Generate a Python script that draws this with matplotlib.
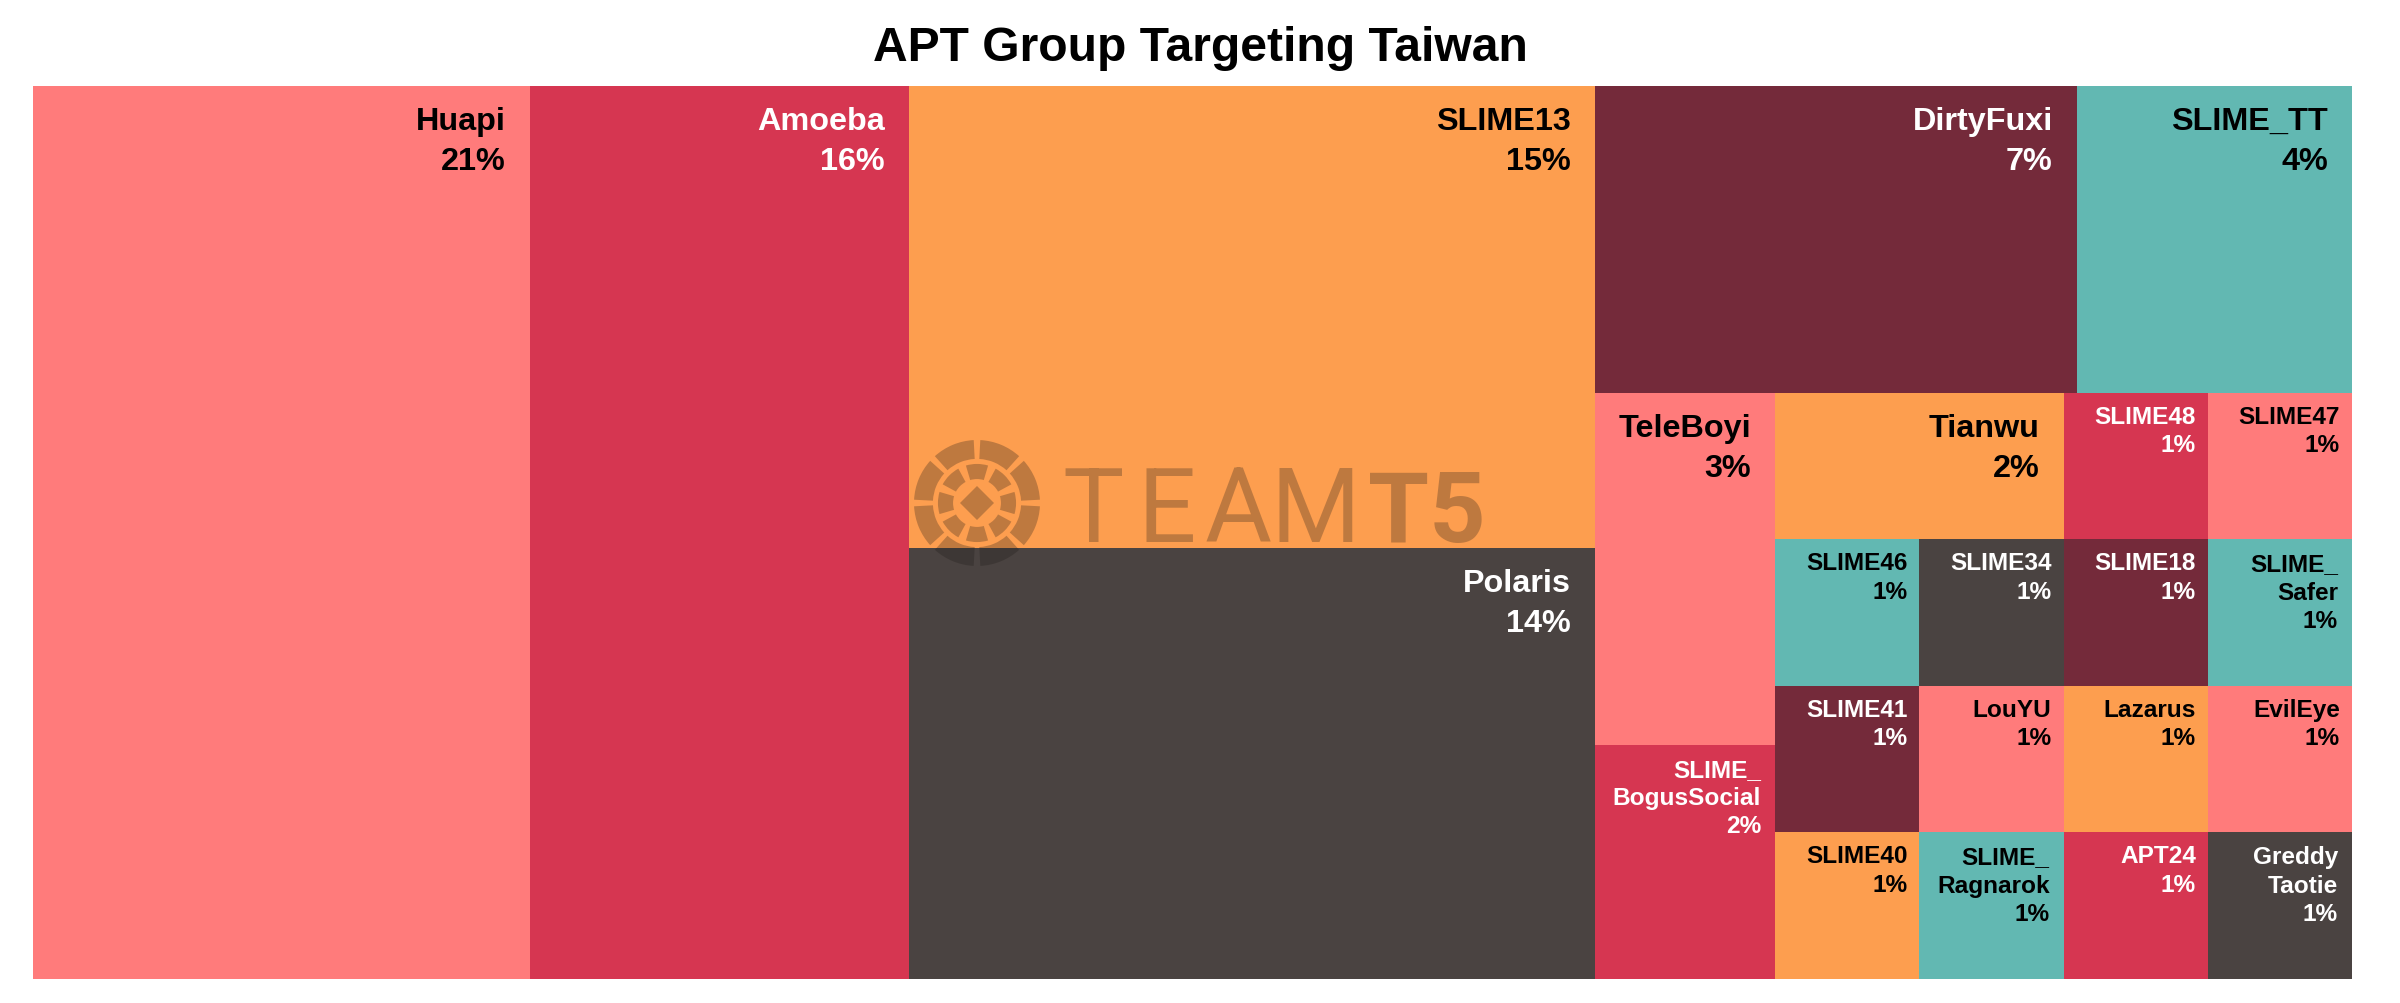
import matplotlib
matplotlib.use('Agg')
from matplotlib import pyplot as plt
from matplotlib.patches import Rectangle, Wedge, Polygon
from matplotlib.colors import to_rgb

plt.rcParams['font.family'] = ['Liberation Sans', 'DejaVu Sans']

# number of reported cases per group (percent labels are count / total)
names = ['Huapi', 'Amoeba', 'SLIME13', 'Polaris', 'DirtyFuxi', 'SLIME_TT',
         'TeleBoyi', 'SLIME_BogusSocial', 'Tianwu', 'SLIME48', 'SLIME47',
         'SLIME46', 'SLIME41', 'SLIME40', 'SLIME34', 'SLIME18', 'SLIME_Safer',
         'LouYU', 'SLIME_Ragnarok', 'Lazarus', 'EvilEye', 'APT24', 'Greddy Taotie']
counts = [21, 16, 15, 14, 7, 4,
          3, 2, 2, 1, 1,
          1, 1, 1, 1, 1, 1,
          1, 1, 1, 1, 1, 1]

palette = {'salmon': '#FF7B7B', 'crimson': '#D63651', 'orange': '#FD9E4F',
           'gray': '#4A4341', 'maroon': '#742A3A', 'teal': '#62B8B2'}
cell_colors = ['salmon', 'crimson', 'orange', 'gray', 'maroon', 'teal',
               'salmon', 'crimson', 'orange', 'crimson', 'salmon',
               'teal', 'maroon', 'orange', 'gray', 'maroon', 'teal',
               'salmon', 'teal', 'orange', 'salmon', 'crimson', 'gray']

title = 'APT Group Targeting Taiwan'


def squarify(values, x0, y0, x1, y1, ratio=0.82):
    """squarified treemap (same scheme as d3.treemapSquarify)"""
    rects = [None] * len(values)
    value = float(sum(values))
    n = len(values)
    i0 = i1 = 0
    while i0 < n:
        dx, dy = x1 - x0, y1 - y0
        sum_v = values[i1]
        i1 += 1
        min_v = max_v = sum_v
        alpha = max(dy / dx, dx / dy) / (value * ratio)
        beta = sum_v * sum_v * alpha
        min_ratio = max(max_v / beta, beta / min_v)
        while i1 < n:
            v = values[i1]
            s = sum_v + v
            mn, mx = min(min_v, v), max(max_v, v)
            beta = s * s * alpha
            new_ratio = max(mx / beta, beta / mn)
            if new_ratio > min_ratio:
                break
            sum_v, min_v, max_v, min_ratio = s, mn, mx, new_ratio
            i1 += 1
        if dx < dy:
            # row along the top
            h = dy * sum_v / value
            x = x0
            for i in range(i0, i1):
                w = dx * values[i] / sum_v
                rects[i] = (x, y0, w, h)
                x += w
            y0 += h
        else:
            # column along the left
            w = dx * sum_v / value
            y = y0
            for i in range(i0, i1):
                h = dy * values[i] / sum_v
                rects[i] = (x0, y, w, h)
                y += h
            x0 += w
        value -= sum_v
        i0 = i1
    return rects


fig_w, fig_h = 2400, 1004
fig = plt.figure(figsize=(fig_w / 100, fig_h / 100), dpi=100)
left, right, bottom, top = 33 / fig_w, 2352 / fig_w, 24 / fig_h, 917 / fig_h
ax = fig.add_axes([left, bottom, right - left, top - bottom])
# data units == pixels, origin at the top left of the map
W = fig_w * (right - left)
H = fig_h * (top - bottom)
ax.set_xlim(0, W)
ax.set_ylim(H, 0)
ax.axis('off')

renderer = fig.canvas.get_renderer()


def text_width(s, fs):
    t = fig.text(0, 0, s, fontsize=fs, fontweight='bold')
    wpx = t.get_window_extent(renderer).width
    t.remove()
    return wpx


total = sum(counts)
rects = squarify(counts, 0, 0, W, H)

for name, cnt, cname, (x, y, w, h) in zip(names, counts, cell_colors, rects):
    fc = palette[cname]
    ax.add_patch(Rectangle((x, y), w, h, facecolor=fc, linewidth=0, zorder=1))

    r, g, b = to_rgb(fc)
    lum = 0.2126 * r + 0.7152 * g + 0.0722 * b
    tc = 'white' if lum < 0.5 else 'black'

    big = cnt > 1
    fs, pad_r, pad_t, ls = (23.3, 24, 20, 1.42) if big else (17.6, 12, 12, 1.3)
    label = name
    if text_width(name, fs) > w - pad_r - 8:
        sep = '_' if '_' in name else ' '
        label = name.replace(sep, '_\n' if sep == '_' else '\n', 1)
        fs, pad_r, pad_t, ls = 17.6, 14, 13, 1.3
    pct = round(100 * cnt / total)
    ax.text(x + w - pad_r, y + pad_t, f'{label}\n{pct}%', ha='right', va='top',
            multialignment='right', fontsize=fs, fontweight='bold', color=tc,
            linespacing=ls, zorder=3)

# TeamT5 watermark
wm_c, wm_a = '#1e1a16', 0.28
wm = dict(color=wm_c, alpha=wm_a, linewidth=0, zorder=2)
cx, cy, R = 944, 417, 63
for k in range(8):
    ax.add_patch(Wedge((cx, cy), R, k * 45 + 3, (k + 1) * 45 - 3, width=R * 0.3, **wm))
    ax.add_patch(Wedge((cx, cy), R * 0.62, k * 45 + 22.5 + 6, k * 45 + 67.5 - 6,
                       width=R * 0.24, **wm))
d = R * 0.27
ax.add_patch(Polygon([(cx, cy - d), (cx + d, cy), (cx, cy + d), (cx - d, cy)], **wm))
for letter, xc in zip('TEAM', [1060, 1134, 1205, 1282]):
    ax.text(xc, 455, letter, ha='center', va='baseline', fontsize=74,
            family='Roboto', fontweight='normal', color=wm_c, alpha=wm_a, zorder=2)
ax.text(1453, 455, 'T5', ha='right', va='baseline', fontsize=71,
        family='Roboto', fontweight='bold', color=wm_c, alpha=wm_a, zorder=2)

fig.text(0.5, (fig_h - 61) / fig_h, title, ha='center', va='baseline',
         fontsize=34.6, fontweight='bold')

fig.savefig('out.png', dpi=100, facecolor='white')
